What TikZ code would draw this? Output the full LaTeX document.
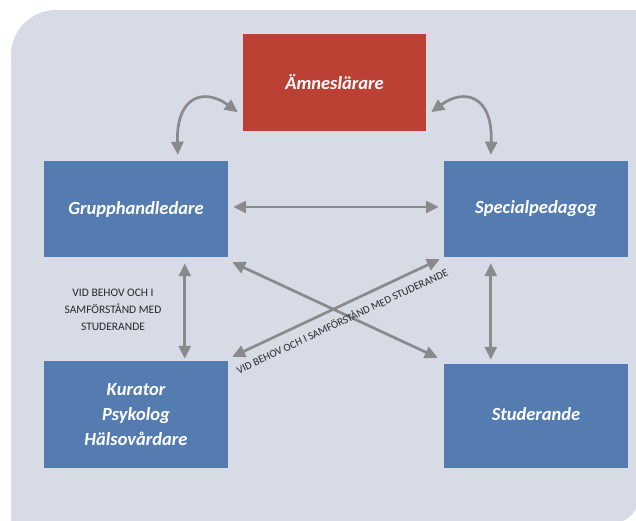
\documentclass[tikz,border=0pt]{standalone}
\usepackage{fontspec}
\setmainfont{Carlito}
\usetikzlibrary{arrows.meta}
\definecolor{bgcol}{RGB}{214,219,230}
\definecolor{boxblue}{RGB}{85,124,176}
\definecolor{boxred}{RGB}{186,65,52}
\definecolor{arrgray}{RGB}{138,138,140}
\definecolor{labtext}{RGB}{40,40,45}
\tikzset{
  box/.style={fill=boxblue, minimum width=184pt, minimum height=96pt, inner sep=0pt,
    text=white, align=center, font=\bfseries\itshape\fontsize{18.5}{25}\selectfont},
  redbox/.style={box, fill=boxred},
  arr/.style={draw=arrgray, line width=2.7pt,
    {Triangle[length=13pt,width=12pt]}-{Triangle[length=13pt,width=12pt]}},
  lab/.style={text=labtext, font=\fontsize{11.5}{17}\selectfont, align=center, inner sep=1pt},
  diaglab/.style={text=labtext, font=\fontsize{10.8}{13}\selectfont, inner sep=1pt}
}
\begin{document}
\begin{tikzpicture}[x=1pt,y=-1pt]
\useasboundingbox (0,0) rectangle (636,520);
\clip (0,0) rectangle (636,520);
\fill[white] (0,0) rectangle (636,520);
\fill[bgcol] (11,540) -- (11,55) .. controls (11,30.2) and (31.2,10) .. (56,10)
  -- (640,10) -- (640,494) .. controls (640,510.6) and (626.6,524) .. (610,524)
  -- (11,540) -- cycle;

\node[redbox, minimum width=183pt, minimum height=97pt] (a) at (334.5,82.5) {Ämneslärare};
\node[box] (g) at (136,209) {Grupphandledare};
\node[box] (s) at (536,209) {Specialpedagog};
\node[box, minimum height=107pt] (k) at (136,414.5) {Kurator\\Psykolog\\Hälsovårdare};
\node[box, minimum height=104pt] (st) at (536,416) {\raisebox{4pt}{Studerande}};

% curved arrows to Ämneslärare
\draw[arr] ([xshift=134pt,yshift=6pt]g.north west) .. controls (176,95) and (205,88) .. ([xshift=-5pt,yshift=19pt]a.south west);
\draw[arr] ([xshift=5pt,yshift=19pt]a.south east) .. controls (464,88) and (493,95) .. ([xshift=47pt,yshift=6pt]s.north west);

% straight arrows
\draw[arr] ([xshift=5pt,yshift=2pt]g.east) -- ([xshift=-5pt,yshift=2pt]s.west);
\draw[arr] ([xshift=141pt,yshift=-6pt]g.south west) -- ([xshift=141pt,yshift=2pt]k.north west);
\draw[arr] ([xshift=47pt,yshift=-6pt]s.south west) -- ([xshift=47pt,yshift=4pt]st.north west);
\draw[arr] ([xshift=4pt,yshift=-5pt]g.south east) -- ([xshift=-6pt,yshift=6pt]st.north west);
\draw[arr] ([xshift=-4pt,yshift=-2pt]s.south west) -- node[diaglab, sloped, below=7pt, pos=0.5] (dl) {VID BEHOV OCH I SAMFÖRSTÅND MED STUDERANDE} ([xshift=4pt,yshift=4pt]k.north east);

\node[lab] (ll) at (113,310) {VID BEHOV OCH I\\SAMFÖRSTÅND MED\\STUDERANDE};
\end{tikzpicture}
\end{document}
